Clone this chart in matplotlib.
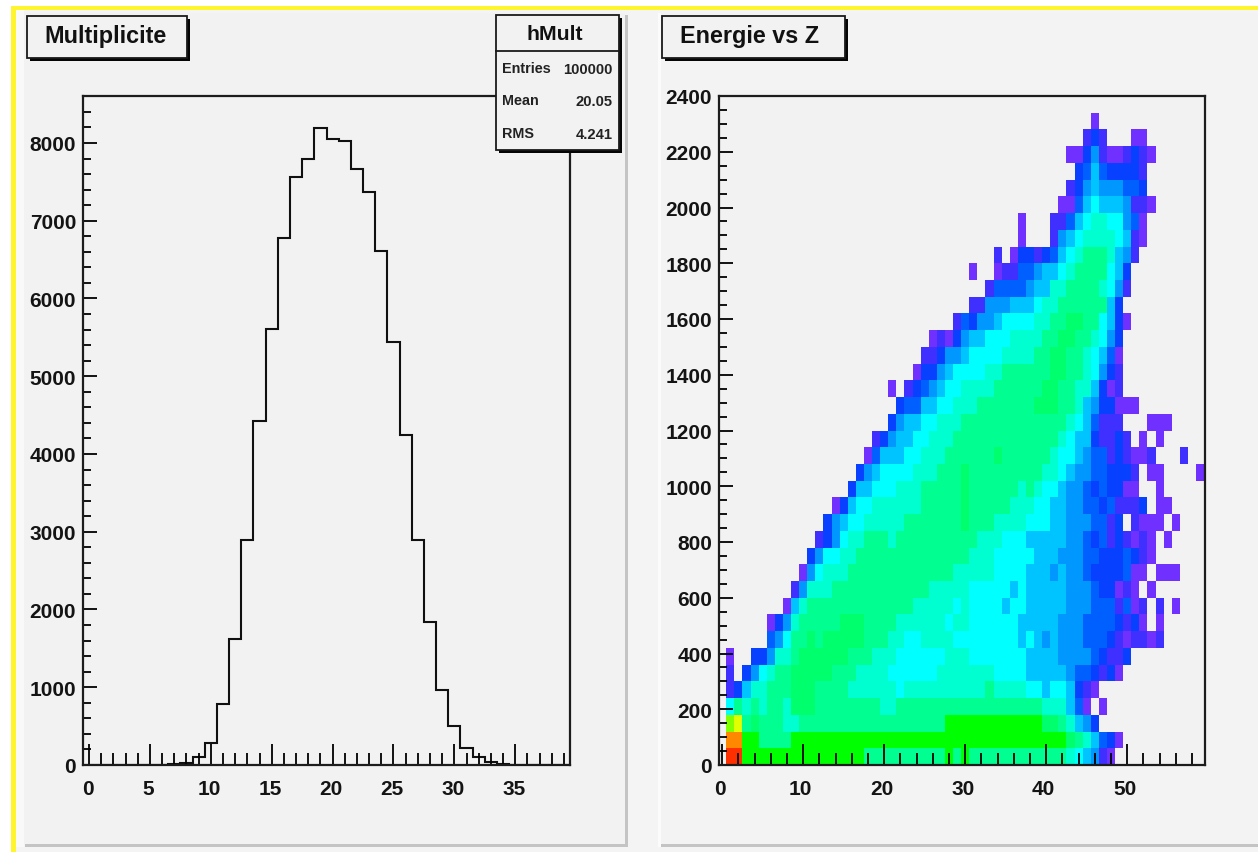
import numpy as np
import matplotlib
matplotlib.use("Agg")
import matplotlib.pyplot as plt
from matplotlib.colors import ListedColormap
from matplotlib.patches import Rectangle
from matplotlib.ticker import MultipleLocator
from matplotlib.transforms import ScaledTranslation

plt.rcParams['font.family'] = ['Liberation Sans', 'DejaVu Sans']

# ---- data: hMult histogram (bin centres 0..39)
mult_counts = [0, 0, 0, 0, 0, 0, 0, 10, 30, 100, 283, 780, 1620, 2890, 4420, 5610, 6780,
               7560, 7790, 8190, 8050, 8020, 7670, 7370, 6610, 5440, 4250, 2890, 1840,
               970, 500, 225, 100, 35, 10, 0, 0, 0, 0, 0]
mult_xticks = [0, 5, 10, 15, 20, 25, 30, 35]
mult_yticks = [0, 1000, 2000, 3000, 4000, 5000, 6000, 7000, 8000]
stats_labels = ["Entries", "Mean", "RMS"]
stats_values = ["100000", "20.05", "4.241"]

# ---- data: Energie vs Z, colour level of each cell, rows from E bin 0 upward
level_codes = ".abcdefghijklmno"
level_colors = ["#7030ff", "#4030ff", "#0840ff", "#0060ff", "#0098ff", "#00c4ff", "#00ffff",
                "#00ffd0", "#00ff90", "#00ff6c", "#00ff00", "#80ff00", "#e0ff00", "#ff8800", "#ff3000"]
energy_rows = [
    ".oo" + "k"*15 + "i"*10 + "kik" + "i"*12 + "hgfeba",
    ".nn" + "kk" + "iiii" + "k"*34 + "jihfdca",
    ".lmij" + "iii" + "hh" + "i"*18 + "kkk" + "k"*9 + "jjihfec",
    ".gihih" + "ii" + "h" + "jjj" + "i"*8 + "hh" + "i"*9 + "i"*7 + "ii" + "hhh" + "fda.a",
    ".bcfhhiiijjjiiiihhhhhhg" + "h"*8 + "hhi" + "hhhh" + "ggfggfcba",
    ".b.cegh" + "ii" + "jjjjj" + "iii" + "hhhh" + "gggggg" + "hhhh" + "hhh" + "gggg" + "fffff" + "eddcbca",
    ".a..cce" + "hh" + "i" + "jjjjjj" + "iii" + "hhh" + "gggggg" + "hhh" + "ggggggg" + "ffff" + "eeee" + "dcbbc",
    "."*6 + "deg" + "ii" + "ji" + "jjjjj" + "iii" + "hh" + "gg" + "hhhh" + "gg" + "gggggg" + "fgfef" + "eee" + "ddd" + "cbabbab",
    "."*6 + "aceh" + "iiiii" + "jjj" + "iiii" + "hhhhhh" + "g" + "hh" + "gggggg" + "fffff" + "eee" + "dddd" + "cbca.a",
    "."*8 + "afh" + "i"*13 + "hhhhh" + "gh" + "gggg" + "fgg" + "fffff" + "eee" + "ddd" + "bdab.b.a",
    "."*9 + "be" + "hhh" + "i"*12 + "hhhhh" + "ggggg" + "fg" + "fffff" + "eee" + "dccaba.a",
    "."*10 + "aeg" + "hhh" + "i"*13 + "hh" + "hhh" + "gggg" + "fff" + "ef" + "ee" + "d" + "cccc" + "daa.aaa",
    "."*11 + "ceggh" + "h" + "i"*14 + "hhh" + "ggggg" + "fff" + "eee" + "dd" + "ccc" + "dcba",
    "."*12 + "bceghh" + "iii" + "h" + "i"*9 + "i" + "hhh" + "ggg" + "fffff" + "ee" + "dcdbcbaba.a",
    "."*13 + "cefgg" + "hhhhh" + "i"*7 + "j" + "iii" + "hhhh" + "ggg" + "ff" + "eee" + "dd" + "bc.baaa.a",
    "."*14 + "acfgg" + "hhhhhh" + "iiiii" + "j" + "iiiii" + "hhh" + "gg" + "ff" + "ee" + "dd" + "cdbbbc.aa",
    "."*16 + "cffggghhhiiiiij" + "iiiiii" + "hih" + "gg" + "f" + "ee" + "dcdccaa..a",
    "."*17 + "cefgggghhhiiij" + "i"*9 + "hh" + "gf" + "ee" + "dd" + "ccc" + "b.aa....a",
    "."*18 + "adfffgghhhiii" + "iiijiiiiiih" + "ggfedd" + "bcbaab...b",
    "."*19 + "bceffgghhhii" + "i"*11 + "hgffcbbcb.a.a",
    "."*21 + "ceffgghhhi" + "i"*12 + "hgfd" + "bbb" + "..." + "aaa",
    "."*22 + "cddffgghh" + "hiiiiiiijjjiihfeccaaa",
    "."*21 + "a." + "bcdefggh" + "hhhiiiiiijjiihhfcab",
    "."*24 + "accefgg" + "gghhiiiiiijjiihgecb",
    "."*25 + "bbceef" + "gggghhhhiijjiihgfda",
    "."*26 + "abace" + "ffggghhhhiijjiihgec",
    "."*29 + "bd" + "ceefgggghhiijjiigfca",
    "."*31 + "bbeeefffghhiiiiiifc",
    "."*33 + "bddddeffhhiiiihgeb",
    "."*31 + "a.." + "abbddeffghiiiigfc",
    "."*34 + "b.a" + "ccbcdfghiiihfeb",
    "."*37 + "a..." + "befghhhhgfba",
    "."*37 + "a..." + "bbdfghhggeda",
    "."*42 + "aadfgfffebba",
    "."*43 + "bcefeeeddc",
    "."*44 + "cdfdccccb",
    "."*43 + "aacebaabcba",
    "."*45 + "bcb...aa",
    "."*46 + "a",
]
energy_xticks = [0, 10, 20, 30, 40, 50]
energy_yticks = list(range(0, 2401, 200))

W, H = 1258, 853
fig = plt.figure(figsize=(W/100, H/100), dpi=100, facecolor="white")


def fx(x):
    return x / W


def fy(y):
    return 1 - y / H


def rect(x0, y0, x1, y1, z=1, **kw):
    fig.add_artist(Rectangle((fx(x0), fy(y1)), (x1-x0)/W, (y1-y0)/H,
                             transform=fig.transFigure, zorder=z, **kw))


def add_axes(x0, y0, x1, y1):
    ax = fig.add_axes([fx(x0), fy(y1), (x1-x0)/W, (y1-y0)/H], facecolor="#f2f2f2")
    ax.set_zorder(0)
    for s in ax.spines.values():
        s.set_linewidth(1.6)
        s.set_color("#1c1c1c")
    return ax


def style_ticks(ax, ylabel_pad, label_shift_px):
    ax.tick_params(axis='x', which='major', direction='in', length=15, width=1.3, labelsize=15, pad=10)
    ax.tick_params(axis='x', which='minor', direction='in', length=9, width=1.3)
    ax.tick_params(axis='y', which='major', direction='in', length=10, width=1.3, labelsize=15, pad=ylabel_pad)
    ax.tick_params(axis='y', which='minor', direction='in', length=5.5, width=1.3)
    shift = ScaledTranslation(label_shift_px / 100, 0, fig.dpi_scale_trans)
    for t in ax.get_xticklabels():
        t.set_transform(t.get_transform() + shift)
    for t in ax.get_xticklabels() + ax.get_yticklabels():
        t.set_fontweight('bold')
        t.set_color("#141414")


# page background, yellow frame, pads
rect(16, 11, W, H, z=-5, facecolor="#f4f4f4", edgecolor="none")
rect(11, 7, W, 11, z=-4, facecolor="#fff52e", edgecolor="none")
rect(11, 7, 16, H, z=-4, facecolor="#fff52e", edgecolor="none")
rect(25, 16, 628, 848, z=-3, facecolor="#c4c4c4", edgecolor="none")
rect(23, 14, 625, 845, z=-2, facecolor="#f2f2f2", edgecolor="none")
rect(660, 16, W, 848, z=-3, facecolor="#c4c4c4", edgecolor="none")
rect(660, 14, W, 845, z=-2, facecolor="#f3f3f3", edgecolor="none")
rect(658, 14, 661, 848, z=-1, facecolor="#fbfbfb", edgecolor="none")
rect(16, 11, 24, 848, z=-1, facecolor="#f9f9f9", edgecolor="none")

# left: histogram
ax1 = add_axes(83, 97, 570, 766)
edges1 = np.arange(41) - 0.5
ax1.stairs(mult_counts, edges1, color="#101010", linewidth=1.5, baseline=0)
ax1.set_xlim(-0.5, 39.5)
ax1.set_ylim(0, 8604)
ax1.set_xticks(mult_xticks)
ax1.set_yticks(mult_yticks)
ax1.xaxis.set_minor_locator(MultipleLocator(1))
ax1.yaxis.set_minor_locator(MultipleLocator(200))
style_ticks(ax1, 5, -1.5)

# right: Energie vs Z
ax2 = add_axes(719, 97, 1205, 766)
n_cols, n_rows = 60, len(energy_rows)
levels = np.full((n_rows, n_cols), np.nan)
for r, row in enumerate(energy_rows):
    for c, ch in enumerate(row):
        if ch != '.':
            levels[r, c] = level_codes.index(ch)
cmap = ListedColormap(level_colors)
xe = np.arange(n_cols + 1) - 0.5
ye = np.arange(n_rows + 1) * 60.0
ax2.pcolormesh(xe, ye, np.ma.masked_invalid(levels), cmap=cmap, vmin=0.5, vmax=15.5,
               edgecolors='none', antialiased=False, linewidth=0)
ax2.set_xlim(-0.4, 59.6)
ax2.set_ylim(0, 2400)
ax2.set_xticks(energy_xticks)
ax2.set_yticks(energy_yticks)
ax2.xaxis.set_minor_locator(MultipleLocator(2))
ax2.yaxis.set_minor_locator(MultipleLocator(50))
style_ticks(ax2, 5, -2.5)


def box(x0, y0, x1, y1, shadow=3):
    rect(x0 + shadow, y0 + shadow, x1 + shadow, y1 + shadow, z=5, facecolor="#050505", edgecolor="none")
    rect(x0, y0, x1, y1, z=6, facecolor="#f2f2f2", edgecolor="#1a1a1a", linewidth=1.3)


# titles
box(27, 17, 187, 59)
fig.text(fx(105), fy(36), "Multiplicite", ha='center', va='center', fontsize=16.8,
         fontweight='bold', color="#111111", zorder=7)
box(662, 17, 845, 59)
fig.text(fx(749), fy(36), "Energie vs Z", ha='center', va='center', fontsize=16.8,
         fontweight='bold', color="#111111", zorder=7)

# statistics box
box(496, 16, 619, 151)
fig.add_artist(plt.Line2D([fx(496), fx(619)], [fy(52), fy(52)], transform=fig.transFigure,
                          color="#1a1a1a", linewidth=1.3, zorder=7))
fig.text(fx(555), fy(35), "hMult", ha='center', va='center', fontsize=15.3, fontweight='bold',
         color="#111111", zorder=7)
for lab, val, yy in zip(stats_labels, stats_values, [69, 101, 134]):
    fig.text(fx(502), fy(yy), lab, ha='left', va='center', fontsize=10.4, fontweight='bold',
             color="#222222", zorder=7)
    fig.text(fx(613), fy(yy + 1), val, ha='right', va='center', fontsize=10.6, fontweight='bold',
             color="#222222", zorder=7)

fig.savefig("out.png", dpi=100, facecolor=fig.get_facecolor())
